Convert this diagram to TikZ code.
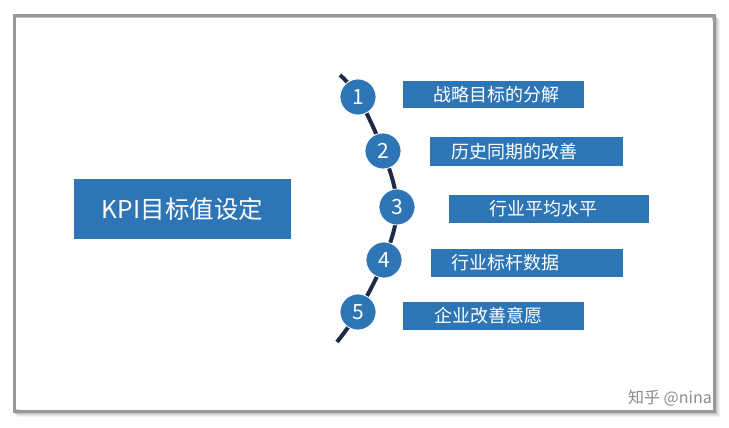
\documentclass[tikz,border=0pt]{standalone}
\usepackage{fontspec}
\setmainfont{Noto Sans CJK SC}
\usetikzlibrary{calc}
\definecolor{kblue}{HTML}{2E75B6}
\definecolor{knavy}{HTML}{1F2A44}
\tikzset{
  x=1pt,y=-1pt,
  bar/.style={fill=kblue,draw=none,inner sep=0pt,minimum height=28pt},
  bartext/.style={text=white,font=\fontsize{18}{20}\selectfont,inner sep=0pt},
  num/.style={circle,fill=kblue,draw=white,line width=0.8pt,minimum size=36pt,inner sep=0pt,text=white,font=\fontsize{21}{22}\selectfont},
}
\begin{document}
\begin{tikzpicture}
\useasboundingbox (0,0) rectangle (729,428);
\fill[white] (0,0) rectangle (729,428);
% frame with shadow
\foreach \o/\c in {5/black!5,4/black!10,3/black!16,2/black!24}{
  \draw[\c,line width=2pt] (14+\o,16+\o) rectangle (714+\o,411+\o);
}
\draw[black!40,line width=3pt] (14,16) rectangle (714,411);
\fill[white] (16,18) rectangle (712,409);
% main box
\node[fill=kblue,text=white,minimum width=217pt,minimum height=60pt,inner sep=0pt,font=\fontsize{24.5}{26}\selectfont] (main) at (182.5,209) {KPI目标值设定};
% curve
\coordinate (s) at (340,75);
\coordinate (e) at (337,342);
\draw[knavy,line width=4pt] plot[smooth,tension=0.6] coordinates {(s) (358,97) (383,151) (397,207) (384,260) (358,312) (e)};
% circles
\node[num] (c1) at (358,97) {1};
\node[num] (c2) at (383,151) {2};
\node[num] (c3) at (397,207) {3};
\node[num] (c4) at (384,260) {4};
\node[num] (c5) at (358,312) {5};
% bars
\node[bar,minimum width=181pt,minimum height=27pt] (b1) at (493.5,95) {};
\node[bar,minimum width=193pt,minimum height=29pt] (b2) at (526.5,151.5) {};
\node[bar,minimum width=200pt] (b3) at (549,209) {};
\node[bar,minimum width=192pt] (b4) at (527,263) {};
\node[bar,minimum width=181pt] (b5) at (493.5,316) {};
\node[bartext] (t1) at (496,95) {战略目标的分解};
\node[bartext] (t2) at (514,151.5) {历史同期的改善};
\node[bartext] (t3) at (543,209) {行业平均水平};
\node[bartext] (t4) at (505,263) {行业标杆数据};
\node[bartext] (t5) at (488,316) {企业改善意愿};
% watermark
\node[text=black!45,font=\fontsize{16}{17}\selectfont,anchor=east,inner sep=0pt] (wm) at (712,398) {知乎 @nina};
\end{tikzpicture}
\end{document}
